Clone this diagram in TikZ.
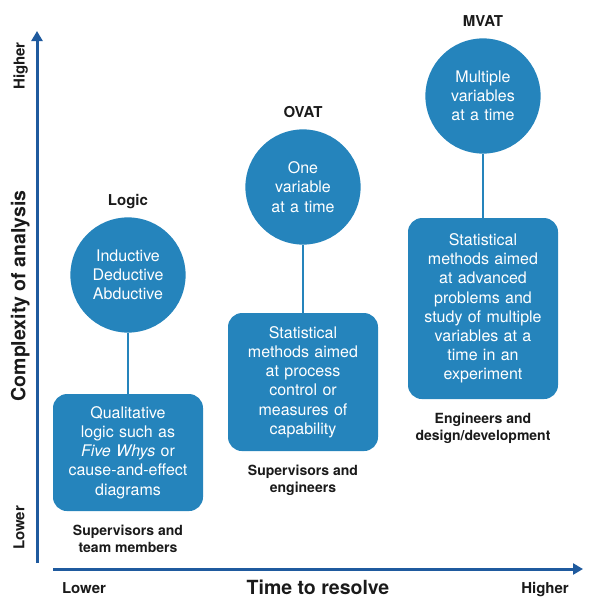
\documentclass[tikz,border=0pt]{standalone}
\usepackage{fontspec}
\setmainfont{TeX Gyre Heros}
\usepackage{xcolor}
\usepackage{tikz}
\usetikzlibrary{arrows.meta, positioning}
\definecolor{primary}{HTML}{2584BC}
\definecolor{axisblue}{HTML}{1F5A9E}
\definecolor{ink}{HTML}{1A1A1A}
\tikzset{
    bubble/.style={circle, fill=primary, text=white, minimum size=114pt, inner sep=0pt, text width=104pt, align=center, font=\fontsize{16}{19.2}\selectfont},
    block/.style={rectangle, fill=primary, text=white, text width=144pt, align=center, rounded corners=14pt, inner xsep=3pt, font=\fontsize{16}{19.2}\selectfont},
    heading/.style={inner sep=0pt, text depth=0pt, text=ink, font=\fontsize{15}{18}\selectfont\bfseries},
    caption/.style={inner sep=0pt, text=ink, align=center, font=\fontsize{14}{17}\selectfont\bfseries},
    axislabel/.style={inner sep=0pt, text depth=0pt, text=ink, font=\fontsize{15}{18}\selectfont\bfseries},
    axistitle/.style={inner sep=0pt, text depth=0pt, text=ink, font=\fontsize{19.5}{22}\selectfont\bfseries},
    link/.style={line width=2.5pt, color=primary},
    axisarrow/.style={-{Triangle[length=10pt, width=11pt]}, line width=3pt, color=axisblue}
}

\begin{document}
\begin{tikzpicture}[x=1pt, y=-1pt]
    \useasboundingbox (0,0) rectangle (599,608);

    % axes
    \coordinate (yfoot) at (37,563);
    \coordinate (ytip) at (37,31);
    \coordinate (xfoot) at (53,569);
    \coordinate (xtip) at (583,569);
    \draw [axisarrow] (yfoot) -- (ytip);
    \draw [axisarrow] (xfoot) -- (xtip);

    \node [axislabel, rotate=90] (ylow) at (19,528) {Lower};
    \node [axislabel, rotate=90] (yhigh) at (19,66) {Higher};
    \node [axistitle, rotate=90] (ytitle) at (18,296) {Complexity of analysis};
    \node [axislabel] (xlow) at (84,588) {Lower};
    \node [axislabel] (xhigh) at (545,588) {Higher};
    \node [axistitle] (xtitle) at (318,587) {Time to resolve};

    % logic
    \node [bubble] (logic) at (128,275) {Inductive\\Deductive\\Abductive};
    \node [heading, above=11.5pt of logic] (logictitle) {Logic};
    \node [block, below=61pt of logic, minimum height=117pt] (logicbox) {Qualitative\\logic such as\\\textit{Five Whys} or\\cause-and-effect\\diagrams};
    \node [caption, below=14pt of logicbox] (logicwho) {Supervisors and\\team members};

    % ovat
    \node [bubble] (ovat) at (303,187) {One\\variable\\at a time};
    \node [heading, above=11.5pt of ovat] (ovattitle) {OVAT};
    \node [block, below=68pt of ovat, minimum height=138pt] (ovatbox) {Statistical\\methods aimed\\at process\\control or\\measures of\\capability};
    \node [caption, below=14pt of ovatbox] (ovatwho) {Supervisors and\\engineers};

    % mvat
    \node [bubble] (mvat) at (483,96) {Multiple\\variables\\at a time};
    \node [heading, above=11.5pt of mvat] (mvattitle) {MVAT};
    \node [block, below=64pt of mvat, minimum height=181pt] (mvatbox) {Statistical\\methods aimed\\at advanced\\problems and\\study of multiple\\variables at a\\time in an\\experiment};
    \node [caption, below=13.5pt of mvatbox] (mvatwho) {Engineers and\\design/development};

    \draw [link] (logic) -- (logicbox);
    \draw [link] (ovat) -- (ovatbox);
    \draw [link] (mvat) -- (mvatbox);
\end{tikzpicture}
\end{document}
